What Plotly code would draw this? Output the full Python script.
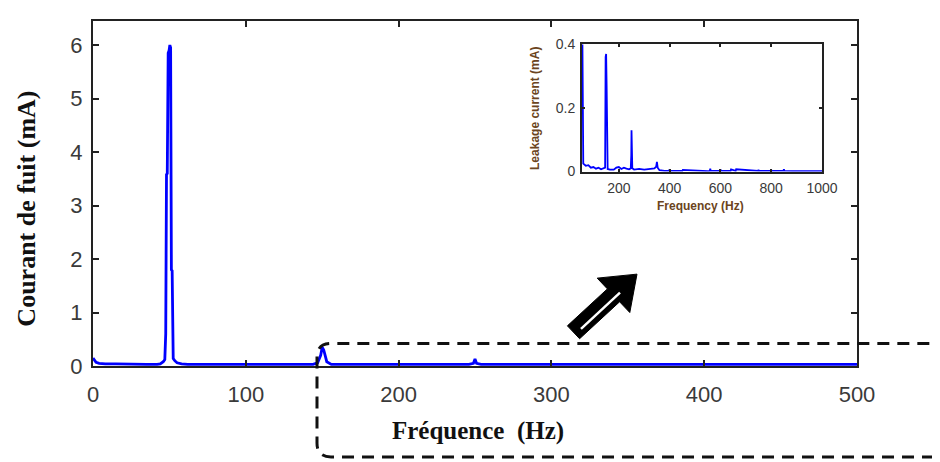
import plotly.graph_objects as go

# ---------------- data ----------------
# main spectrum (frequency in Hz, leakage current in mA)
freq_main = [0, 1, 2, 4, 8, 15, 25, 35, 42, 44, 46, 47, 47.6, 48.1, 48.6, 49.2,
             49.8, 50.3, 50.8, 51.3, 51.8, 52.5, 53.5, 55, 58, 62, 75, 90, 110,
             130, 144, 147, 149, 150, 151, 153, 156, 170, 200, 230, 246, 249,
             250, 251, 254, 280, 320, 360, 400, 440, 480, 500]
cur_main = [0.15, 0.12, 0.07, 0.05, 0.04, 0.04, 0.03, 0.03, 0.03, 0.04, 0.08,
            0.12, 0.6, 3.58, 3.6, 5.85, 5.9, 6.0, 5.95, 1.8, 1.78, 0.14, 0.1,
            0.06, 0.04, 0.03, 0.03, 0.03, 0.03, 0.03, 0.03, 0.06, 0.2, 0.35,
            0.3, 0.08, 0.03, 0.03, 0.03, 0.03, 0.03, 0.05, 0.13, 0.05, 0.03,
            0.03, 0.03, 0.03, 0.03, 0.03, 0.03, 0.03]

# inset spectrum
freq_inset = [55, 58, 60, 70, 80, 90, 100, 110, 120, 130, 140, 146, 148, 150,
              152, 154, 156, 165, 180, 190, 200, 210, 220, 230, 240, 247, 249,
              250, 251, 253, 260, 280, 300, 320, 340, 347, 350, 353, 360, 380,
              398, 400, 402, 450, 452, 550, 558, 560, 562, 598, 600, 602, 640,
              642, 660, 662, 748, 750, 752, 798, 800, 802, 848, 850, 852, 900,
              1000]
cur_inset = [0.6, 0.05, 0.025, 0.018, 0.02, 0.012, 0.014, 0.009, 0.012, 0.007,
             0.009, 0.012, 0.36, 0.37, 0.27, 0.02, 0.008, 0.006, 0.006, 0.012,
             0.014, 0.008, 0.012, 0.009, 0.007, 0.01, 0.05, 0.13, 0.05, 0.01,
             0.006, 0.008, 0.006, 0.009, 0.01, 0.015, 0.03, 0.012, 0.004,
             0.002, 0.002, 0.007, 0.002, 0.002, 0.005, 0.001, 0.002, 0.009,
             0.002, 0.002, 0.007, 0.002, 0.002, 0.007, 0.002, 0.007, 0.002,
             0.005, 0.002, 0.002, 0.005, 0.002, 0.002, 0.007, 0.002, 0.001,
             0.001]

main_xticks = [0, 100, 200, 300, 400, 500]
main_yticks = [0, 1, 2, 3, 4, 5, 6]
inset_xticks = [200, 400, 600, 800, 1000]
inset_yticks = [0, 0.2, 0.4]
inset_yticklabels = ["0", "0.2", "0.4"]

x_title = "Fréquence  (Hz)"
y_title = "Courant de fuit (mA)"
inset_x_title = "Frequency (Hz)"
inset_y_title = "Leakage current (mA)"

# ---------------- layout geometry (window pixels) ----------------
WIN_W, WIN_H = 940, 462
OFF = 8                          # default page body margin
L, R, T, B = 93, 857, 13, 366    # main frame edges in window pixels
PW, PH = R - L, B - T


def px(x):
    return (x - L) / PW


def py(y):
    return (B - y) / PH


fig = go.Figure()
fig.add_trace(go.Scatter(x=freq_main, y=cur_main, mode="lines",
                         line=dict(color="#0000ff", width=2.8),
                         xaxis="x", yaxis="y", showlegend=False))
fig.add_trace(go.Scatter(x=freq_inset, y=cur_inset, mode="lines",
                         line=dict(color="#0000ff", width=1.8),
                         xaxis="x2", yaxis="y2", showlegend=False))

tickfont_main = dict(family="Liberation Sans, Arial", size=22, color="#3a3a3a")
tickfont_inset = dict(family="Liberation Sans, Arial", size=14, color="#3a3a3a")

fig.update_layout(
    width=WIN_W - OFF, height=WIN_H - OFF, autosize=False,
    margin=dict(l=L - OFF, r=WIN_W - R, t=T - OFF, b=WIN_H - B, pad=0),
    paper_bgcolor="white", plot_bgcolor="white",
    xaxis=dict(domain=[0, 1], range=[0, 500], tickvals=main_xticks,
               ticks="inside", ticklen=6, tickwidth=1.5, tickcolor="#222",
               showline=True, linecolor="#222", linewidth=2, mirror="allticks",
               showgrid=False, zeroline=False, tickfont=tickfont_main,
               ticklabelstandoff=8),
    yaxis=dict(domain=[0, 1], range=[0, 6.45], tickvals=main_yticks,
               ticks="inside", ticklen=6, tickwidth=1.5, tickcolor="#222",
               showline=True, linecolor="#222", linewidth=2, mirror="allticks",
               showgrid=False, zeroline=False, tickfont=tickfont_main,
               ticklabelstandoff=4),
    xaxis2=dict(domain=[px(582), px(822)], range=[55, 1000],
                tickvals=inset_xticks, anchor="y2",
                ticks="inside", ticklen=3, tickwidth=1.5, tickcolor="#222",
                showline=True, linecolor="#222", linewidth=2, mirror="allticks",
                showgrid=False, zeroline=False, tickfont=tickfont_inset,
                ticklabelstandoff=3),
    yaxis2=dict(domain=[py(167), py(37)], range=[0, 0.4],
                tickvals=inset_yticks, ticktext=inset_yticklabels, anchor="x2",
                ticks="inside", ticklen=3, tickwidth=1.5, tickcolor="#222",
                showline=True, linecolor="#222", linewidth=2, mirror="allticks",
                showgrid=False, zeroline=False, tickfont=tickfont_inset,
                ticklabelstandoff=2),
)

# titles as annotations
fig.add_annotation(text="<b>" + x_title + "</b>", xref="paper", yref="paper",
                   x=px(478), y=py(432), showarrow=False,
                   xanchor="center", yanchor="middle",
                   font=dict(family="Liberation Serif, Times New Roman",
                             size=25, color="#111"))
fig.add_annotation(text="<b>" + y_title + "</b>", xref="paper", yref="paper",
                   x=px(27), y=py(205), showarrow=False, textangle=-90,
                   xanchor="center", yanchor="middle",
                   font=dict(family="Liberation Serif, Times New Roman",
                             size=26, color="#111"))
fig.add_annotation(text="<b>" + inset_x_title + "</b>", xref="paper",
                   yref="paper", x=px(700), y=py(202), showarrow=False,
                   xanchor="center", yanchor="middle",
                   font=dict(family="Liberation Sans, Arial", size=12,
                             color="#6b4420"))
fig.add_annotation(text="<b>" + inset_y_title + "</b>", xref="paper",
                   yref="paper", x=px(535), y=py(103), showarrow=False,
                   textangle=-90, xanchor="center", yanchor="middle",
                   font=dict(family="Liberation Sans, Arial", size=12,
                             color="#6b4420"))


def path_from(points, closed=False):
    s = ""
    for i, (x, y) in enumerate(points):
        s += ("M" if i == 0 else "L") + f"{px(x):.5f},{py(y):.5f} "
    if closed:
        s += "Z"
    return s


# dashed rounded rectangle (zoom box)
r = 14
x0, x1, y0, y1 = 317, 948, 343, 459
rect = (f"M{px(x1 - r):.5f},{py(y1):.5f} "
        f"L{px(x0 + r):.5f},{py(y1):.5f} "
        f"Q{px(x0):.5f},{py(y1):.5f} {px(x0):.5f},{py(y1 - r):.5f} "
        f"L{px(x0):.5f},{py(y0 + r):.5f} "
        f"Q{px(x0):.5f},{py(y0):.5f} {px(x0 + r):.5f},{py(y0):.5f} "
        f"L{px(x1 - r):.5f},{py(y0):.5f} "
        f"Q{px(x1):.5f},{py(y0):.5f} {px(x1):.5f},{py(y0 + r):.5f} "
        f"L{px(x1):.5f},{py(y1 - r):.5f} "
        f"Q{px(x1):.5f},{py(y1):.5f} {px(x1 - r):.5f},{py(y1):.5f} Z")
fig.add_shape(type="path", path=rect, xref="paper", yref="paper",
              line=dict(color="#111", width=3, dash="12px,8px"),
              fillcolor="rgba(0,0,0,0)", layer="above")

# block arrow
arrow_pts = [(567.4, 324.9), (607.4, 287.1), (597.2, 276.1), (637, 272),
             (629.8, 311.3), (619.6, 300.3), (579.6, 338.1)]
fig.add_shape(type="path", path=path_from(arrow_pts, closed=True),
              xref="paper", yref="paper", fillcolor="#000",
              line=dict(color="#000", width=1), layer="above")
fig.add_shape(type="line", xref="paper", yref="paper",
              x0=px(581), y0=py(328), x1=px(620), y1=py(291),
              line=dict(color="white", width=2.5), layer="above")

fig.write_html("out.html")
